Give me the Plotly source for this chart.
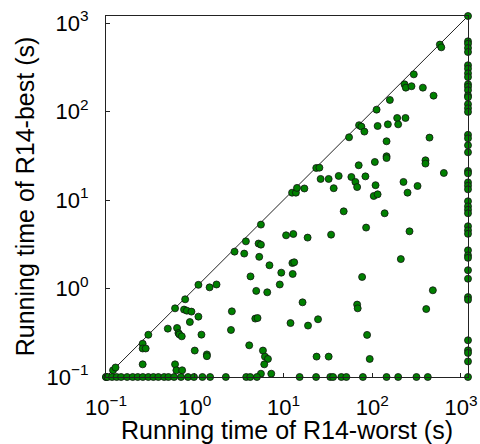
import plotly.graph_objects as go
import math

# ---- data (seconds) ----
TIMEOUT = 1200      # unsolved / timed-out runs plotted at the axis edge
FLOOR = 0.1         # runs faster than 0.1 s

# instances solved by both configurations
both_worst = [578, 600, 294, 231, 239, 277, 372, 491, 158, 112, 191, 237, 196, 150, 71.1, 75.5, 81.6, 115,
              54.8, 145, 442, 145, 145, 107, 70.4, 398, 398, 641, 23.4, 25.4, 26.2, 32.3, 41.9, 36.8, 58.2,
              64.6, 67.6, 83.8, 109, 225, 324, 250, 104, 115, 12.5, 13.8, 14.2, 17.2,
              47.7, 138, 10.7, 12.9, 18.7, 34.4, 85.3, 263, 210, 12.6, 13.2, 9.44, 12.7, 9.08, 76.9, 482,
              16.4, 67.6, 68.6, 406, 12.0, 18.9, 24.5, 87.5, 23.6, 32.3, 93.7,
              5.57, 3.77, 5.24, 5.57, 2.81, 3.61, 5.33, 6.95, 4.25, 4.93, 6.56, 1.10, 1.47, 1.76, 0.78,
              0.60, 0.758, 0.815, 0.918, 1.10, 0.881, 2.62, 2.56, 4.81, 5.10, 0.497, 0.632, 0.655, 0.671,
              0.714, 1.19, 0.30, 0.259, 0.259, 0.28, 1.0, 1.37, 1.37, 4.11, 5.87, 6.18, 6.68, 6.07, 0.259,
              0.60, 0.621, 0.721, 0.12, 0.128, 5.57, 7.28]
both_best = [570, 531, 263, 203, 186, 193, 186, 151, 135, 105, 84.5, 84.5, 71.6, 71.6, 70.0, 67.5, 59.3, 68.6,
             51.1, 46.1, 50.7, 31.2, 29.8, 26.9, 24.7, 28.1, 25.8, 20.2, 23.0, 23.2, 17.3, 17.3, 18.7, 13.6, 18.2,
             16.0, 14.0, 18.5, 14.7, 16.0, 14.4, 12.1, 11.1, 11.6, 12.1, 12.1, 13.7, 13.5,
             7.45, 7.08, 3.99, 4.13, 3.76, 4.06, 4.88, 4.43, 2.15, 1.94, 1.98, 1.51, 1.46, 1.11, 1.35, 0.955,
             0.698, 0.658, 0.597, 0.586, 0.407, 0.381, 0.449, 0.299, 0.170, 0.170, 0.160,
             5.27, 3.41, 3.22, 3.13, 2.61, 2.48, 2.28, 1.83, 1.37, 0.94, 0.906, 1.10, 1.03, 1.11, 0.755,
             0.597, 0.578, 0.562, 0.548, 0.481, 0.418, 0.552, 0.340, 0.457, 0.464, 0.352, 0.358, 0.314, 0.303,
             0.288, 0.301, 0.30, 0.238, 0.21, 0.21, 0.199, 0.180, 0.172, 0.228, 0.199, 0.170, 0.160, 0.139, 0.139,
             0.139, 0.119, 0.119, 0.119, 0.128, 0.109, 0.109]

# R14-best ran below 0.1 s (bottom row): R14-worst times
worst_times_fast_best = [0.1, 0.1, 0.104, 0.117, 0.132, 0.148, 0.173, 0.2, 0.228, 0.26, 0.30, 0.342, 0.389,
                         0.452, 0.505, 0.585, 0.70, 0.84, 0.98, 1.22, 1.49, 2.24, 3.80, 4.22, 5.02, 15.2, 23.3,
                         33.7, 36.2, 44.9, 51.1, 78.5, 145, 196, 315, 423, TIMEOUT]

# R14-worst timed out (right column): R14-best times
best_times_worst_timeout = [TIMEOUT, 621, 582, 522, 470, 333, 305, 270, 245, 203, 190, 174, 152, 145, 121, 109,
                            99, 54.5, 49.8, 41.5, 34.6, 21.3, 20.0, 15.8, 14.5, 13.2, 9.67, 8.49, 7.75, 7.08,
                            5.05, 4.55, 4.15, 2.70, 2.37, 2.22, 1.61, 1.29, 0.80, 0.745, 0.26, 0.20, 0.187, 0.150]

tick_vals = [0.1, 1, 10, 100, 1000]
tick_text = ["10<sup>\u22121</sup>", "10<sup>0</sup>", "10<sup>1</sup>", "10<sup>2</sup>", "10<sup>3</sup>"]

xs = both_worst + worst_times_fast_best + [TIMEOUT] * len(best_times_worst_timeout)
ys = both_best + [FLOOR] * len(worst_times_fast_best) + best_times_worst_timeout

fig = go.Figure()
fig.add_trace(go.Scatter(x=[FLOOR, TIMEOUT], y=[FLOOR, TIMEOUT], mode="lines",
                         line=dict(color="#222222", width=1), hoverinfo="skip", showlegend=False))
fig.add_trace(go.Scatter(x=xs, y=ys, mode="markers", cliponaxis=False, showlegend=False,
                         marker=dict(size=7, color="#008000", line=dict(color="#111111", width=0.8))))

rng = [-1, math.log10(TIMEOUT)]
axis_common = dict(type="log", range=rng, tickvals=tick_vals, ticktext=tick_text,
                   ticks="inside", ticklen=4, tickwidth=1, tickcolor="#222222",
                   showline=True, linecolor="#222222", linewidth=1, mirror=True,
                   showgrid=False, zeroline=False, automargin=False,
                   tickfont=dict(family="Liberation Sans", size=22, color="black"),
                   title_font=dict(family="Liberation Sans", size=25, color="black"))

fig.update_xaxes(**axis_common, title_text="Running time of R14-worst (s)", title_standoff=3,
                 ticklabelstandoff=11)
fig.update_yaxes(**axis_common, title_text="Running time of R14-best (s)", title_standoff=4,
                 ticklabelstandoff=12)

fig.update_layout(width=480, height=444, paper_bgcolor="white", plot_bgcolor="white",
                  margin=dict(l=106, r=12, t=16, b=67), showlegend=False)

fig.write_html("out.html", config={"displayModeBar": False},
               post_script="document.body.style.margin='0';document.body.style.overflow='hidden';")
